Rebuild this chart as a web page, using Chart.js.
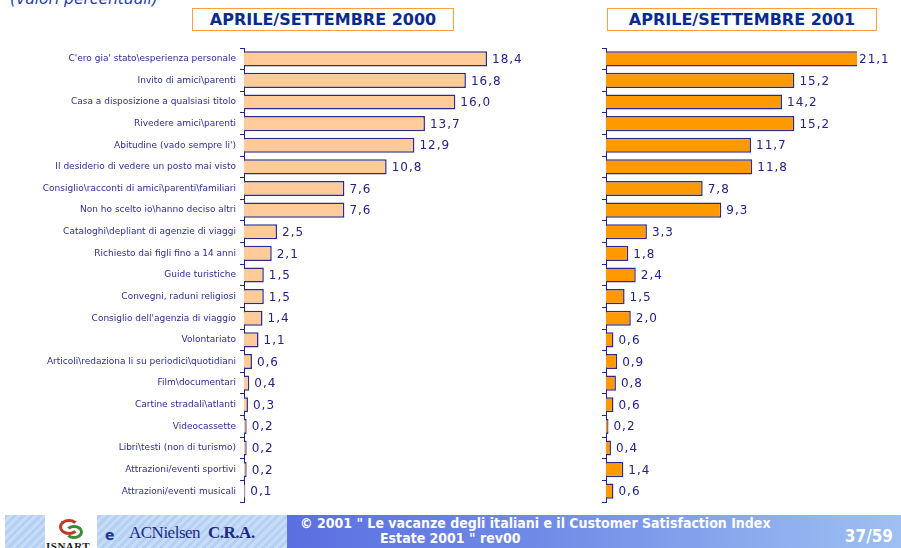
<!DOCTYPE html>
<html>
<head>
<meta charset="utf-8">
<script src="https://cdn.jsdelivr.net/npm/chart.js@4"></script>
<style>
  body { margin: 0; width: 901px; height: 548px; background: #fff; overflow: hidden; position: relative; font-family: "DejaVu Sans", sans-serif; }
  .sub { position: absolute; left: 10px; top: -10px; font-size: 15.5px; font-style: italic; color: #1f3fa8; }
  .title { position: absolute; top: 8px; height: 21px; border: 1.5px solid #ffa040; background: #fff; color: #0a2a8f;
           font-weight: bold; font-size: 16px; text-align: center; line-height: 21px; }
  canvas { position: absolute; }
  .foot { position: absolute; left: 5px; top: 515px; width: 896px; height: 33px;
          background: repeating-linear-gradient(135deg, #b4d0f4 0 3px, #c8dcf8 3px 6px); }
  .logo { position: absolute; left: 40px; top: 0; width: 52px; height: 33px; background: #fff; }
  .logo .sw1 { position: absolute; left: 14px; top: 4px; width: 14px; height: 10px; border: 3px solid #c0392b; border-radius: 50%; border-right-color: transparent; }
  .logo .sw2 { position: absolute; left: 20px; top: 10px; width: 12px; height: 8px; border: 3px solid #3a8a3a; border-radius: 50%; border-left-color: transparent; }
  .logo .nm { position: absolute; left: 1px; bottom: -4px; font: bold 11px "Liberation Serif", serif; color: #222; letter-spacing: 0.5px; }
  .e { position: absolute; left: 100px; top: 12px; font: bold 14px "DejaVu Sans", sans-serif; color: #1a3a9a; }
  .acn { position: absolute; left: 124px; top: 8px; font: 17px "Liberation Serif", serif; color: #1a2a8a; letter-spacing: -0.5px; }
  .acn b { margin-left: 8px; }
  .band { position: absolute; left: 282px; top: 0; width: 614px; height: 33px;
          background: linear-gradient(90deg, #5b6fe0 0%, #6f8ae6 40%, #9ec0f2 100%); }
  .band .t { position: absolute; left: 13px; top: 1px; color: #fff; font: bold 14px "DejaVu Sans Condensed", "DejaVu Sans", sans-serif; line-height: 15px; white-space: nowrap; }
  .band .pg { position: absolute; right: 8px; top: 11px; color: #fff; font: bold 17px "DejaVu Sans Condensed", "DejaVu Sans", sans-serif; }
</style>
</head>
<body>
<div class="sub">(valori percentuali)</div>
<div class="title" style="left:192px; width:260px;">APRILE/SETTEMBRE 2000</div>
<div class="title" style="left:607px; width:268px;">APRILE/SETTEMBRE 2001</div>
<canvas id="c2000" width="561" height="460" style="left:0; top:44px;"></canvas>
<canvas id="c2001" width="301" height="460" style="left:600px; top:44px;"></canvas>
<div class="foot">
  <div class="logo"><div class="sw1"></div><div class="sw2"></div><div class="nm">ISNART</div></div>
  <div class="e">e</div>
  <div class="acn">ACNielsen<b>C.R.A.</b></div>
  <div class="band">
    <div class="t">© 2001 " Le vacanze degli italiani e il Customer Satisfaction Index<br><span style="padding-left:80px">Estate 2001 " rev00</span></div>
    <div class="pg">37/59</div>
  </div>
</div>
<script>
const categories = [
  "C'ero gia' stato\\esperienza personale",
  "Invito di amici\\parenti",
  "Casa a disposizione a qualsiasi titolo",
  "Rivedere amici\\parenti",
  "Abitudine (vado sempre li')",
  "Il desiderio di vedere un posto mai visto",
  "Consiglio\\racconti di amici\\parenti\\familiari",
  "Non ho scelto io\\hanno deciso altri",
  "Cataloghi\\depliant di agenzie di viaggi",
  "Richiesto dai figli fino a 14 anni",
  "Guide turistiche",
  "Convegni, raduni religiosi",
  "Consiglio dell'agenzia di viaggio",
  "Volontariato",
  "Articoli\\redaziona li su periodici\\quotidiani",
  "Film\\documentari",
  "Cartine stradali\\atlanti",
  "Videocassette",
  "Libri\\testi (non di turismo)",
  "Attrazioni/eventi sportivi",
  "Attrazioni/eventi musicali"
];
const values2000 = [18.4, 16.8, 16.0, 13.7, 12.9, 10.8, 7.6, 7.6, 2.5, 2.1, 1.5, 1.5, 1.4, 1.1, 0.6, 0.4, 0.3, 0.2, 0.2, 0.2, 0.1];
const values2001 = [21.1, 15.2, 14.2, 15.2, 11.7, 11.8, 7.8, 9.3, 3.3, 1.8, 2.4, 1.5, 2.0, 0.6, 0.9, 0.8, 0.6, 0.2, 0.4, 1.4, 0.6];

const navy = "#22228a";
const fmt = v => v.toFixed(1).replace(".", ",");

// value labels next to each bar
const valueLabels = {
  id: "valueLabels",
  afterDatasetsDraw(chart) {
    const ctx = chart.ctx;
    const area = chart.chartArea;
    const meta = chart.getDatasetMeta(0);
    const data = chart.data.datasets[0].data;
    ctx.save();
    ctx.font = "12px 'DejaVu Sans', sans-serif";
    ctx.letterSpacing = "1px";
    ctx.fillStyle = navy;
    ctx.textBaseline = "middle";
    meta.data.forEach((bar, i) => {
      const x = bar.x > area.right ? area.right + 2 : bar.x + 5;
      ctx.fillText(fmt(data[i]), x, bar.y + 1);
    });
    ctx.restore();
  }
};

function makeChart(id, values, fill, max, yWidth, padRight, showLabels) {
  return new Chart(document.getElementById(id), {
    type: "bar",
    data: {
      labels: categories,
      datasets: [{
        data: values,
        backgroundColor: fill,
        borderColor: "#2b2b8f",
        borderWidth: 1.5,
        borderSkipped: "left",
        barPercentage: 0.7,
        categoryPercentage: 1
      }]
    },
    options: {
      indexAxis: "y",
      responsive: false,
      animation: false,
      layout: { padding: { top: 4, bottom: 2, right: padRight, left: 0 } },
      plugins: { legend: { display: false }, tooltip: { enabled: false } },
      scales: {
        x: { display: false, min: 0, max: max },
        y: {
          afterFit(scale) {
            scale.width = yWidth;
            scale.paddingTop = 0;
            scale.paddingBottom = 0;
          },
          border: { color: navy, width: 1 },
          grid: { offset: true, drawOnChartArea: false, drawTicks: true, tickLength: 4, color: navy },
          ticks: {
            display: showLabels,
            padding: 4,
            color: "#2d2d95",
            font: { family: "'DejaVu Sans', sans-serif", size: 9 }
          }
        }
      }
    },
    plugins: [valueLabels]
  });
}

makeChart("c2000", values2000, "#ffcc99", 24, 244, 0, true);
makeChart("c2001", values2001, "#ff9900", 20.25, 6, 44, false);
</script>
</body>
</html>
